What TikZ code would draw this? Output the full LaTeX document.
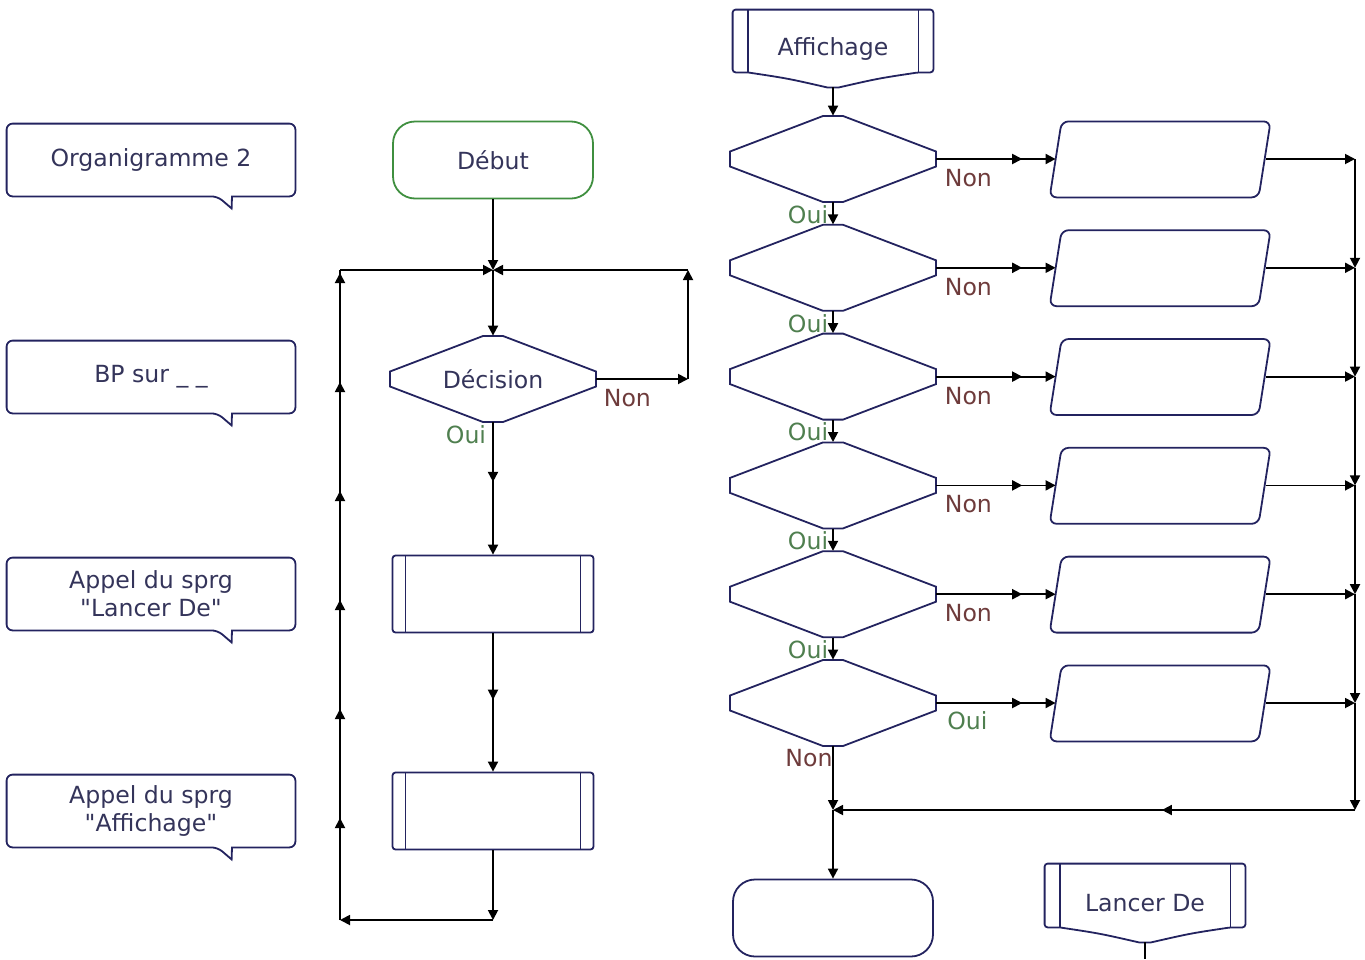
\documentclass[tikz,border=0pt]{standalone}
\usepackage{fontspec}
\setmainfont{DejaVu Sans}[Ligatures=TeXOff]
\usetikzlibrary{arrows.meta,calc,decorations.markings}

\definecolor{trait}{HTML}{23235F}
\definecolor{texte}{HTML}{34345A}
\definecolor{nonc}{HTML}{6E3B3B}
\definecolor{ouic}{HTML}{4F7F4F}
\definecolor{debc}{HTML}{3F8F3F}

\tikzset{
  shp/.style={draw=trait, line width=0.9pt},
  conn/.style={draw=black, line width=0.9pt},
  midarr/.style={postaction={decorate,decoration={markings,mark=at position #1 with {\arrow{>}}}}},
  upmarks/.style={postaction={decorate,decoration={markings,mark=between positions 51pt and 325pt step 54.5pt with {\arrow{>}}}}},
  bulle/.style={minimum width=144pt, minimum height=36pt, inner sep=0pt, text=texte, align=center},
  debutfin/.style={draw, line width=0.9pt, rounded corners=11pt, minimum width=100pt, minimum height=38.5pt, text=texte},
  decibox/.style={minimum width=103pt, minimum height=43pt, inner sep=0pt, text=texte},
  parabox/.style={minimum width=105pt, minimum height=38pt, inner sep=0pt},
  entetebox/.style={minimum width=100pt, minimum height=38.5pt, inner sep=0pt, text=texte},
  sousprog/.style={shp, rounded corners=1.5pt, minimum width=100.5pt, minimum height=38.5pt,
    path picture={
      \draw[shp] ([xshift=6.5pt]path picture bounding box.north west) -- ([xshift=6.5pt]path picture bounding box.south west);
      \draw[shp] ([xshift=-6.5pt]path picture bounding box.north east) -- ([xshift=-6.5pt]path picture bounding box.south east);
    }},
  lblnon/.style={text=nonc},
  lbloui/.style={text=ouic}
}

% outlines drawn round named nodes
\newcommand{\decishape}[1]{%
  \draw[shp] (#1.center) ++(-103,-7.5) -- ++(0,15) -- ++(93,35.5) -- ++(20,0) -- ++(93,-35.5)
    -- ++(0,-15) -- ++(-93,-35.5) -- ++(-20,0) -- cycle;}
\newcommand{\paraform}[1]{%
  \draw[shp, rounded corners=3.5pt] (#1.south west) ++(-6,0) -- ++(12,-76) -- ++(209,0) -- ++(-12,76) -- cycle;}
\newcommand{\bulleform}[1]{%
  \draw[shp, rounded corners=3pt] (#1.south) ++(81,0) -- (#1.south east) -- (#1.north east)
    -- (#1.north west) -- (#1.south west) -- ++(211,0) [sharp corners] -- ++(14,12) -- cycle;}
\newcommand{\entete}[1]{%
  \draw[shp, rounded corners=1.5pt] ($(#1.south west)+(15,-15)$) -- ($(#1.south west)+(0,-15)$)
    -- (#1.north west) -- (#1.north east) -- ($(#1.south east)+(0,-15)$) -- ($(#1.south east)+(-15,-15)$)
    [sharp corners] .. controls +(-40,6) .. ($(#1.south)+(6,0)$) -- ($(#1.south)+(-6,0)$)
    .. controls ($(#1.south west)+(55,-9)$) .. cycle;
  \draw[shp] ($(#1.north west)+(15,0)$) -- ($(#1.south west)+(15,-15)$);
  \draw[shp] ($(#1.north east)+(-15,0)$) -- ($(#1.south east)+(-15,-15)$);}

\begin{document}
\begin{tikzpicture}[x=0.5pt, y=-0.5pt, font=\fontsize{11.8pt}{14pt}\selectfont,
  >={Triangle[length=5pt,width=5pt]}]
\useasboundingbox (0,0) rectangle (1365,959);

% Comments on the left
\node[bulle] (com1) at (151,160) {Organigramme 2};
\node[bulle] (com2) at (151,377) {BP sur \_ \_};
\node[bulle] (com3) at (151,594) {Appel du sprg\\"Lancer De"};
\node[bulle] (com4) at (151,811) {Appel du sprg\\"Affichage"};
\foreach \c in {com1,com2,com3,com4} {\bulleform{\c}}

% Main program
\node[debutfin, draw=debc] (debut) at (493,160) {Début};
\node[decibox] (deci) at (493,379) {Décision};
\decishape{deci}
\node[sousprog] (sub1) at (493,594) {};
\node[sousprog] (sub2) at (493,811) {};

\coordinate (j1) at (493,270);
\coordinate (r1) at (688,379);
\coordinate (r2) at (688,270);
\coordinate (b1) at (493,920);
\coordinate (b2) at (340,920);
\coordinate (b3) at (340,270);

\draw[conn,->] (debut) -- (j1);
\draw[conn,->] (j1) -- (deci);
\draw[conn,->] (deci) -- (r1);
\draw[conn,->] (r1) -- (r2);
\draw[conn,->] (r2) -- (j1);
\node[lblnon] (non0) at ($(deci.east)+(31,19)$) {Non};
\node[lbloui] (oui0) at ($(deci.south)+(-27,12)$) {Oui};
\draw[conn,->,midarr=0.45] (deci) -- (sub1);
\draw[conn,->,midarr=0.48] (sub1) -- (sub2);
\draw[conn,->] (sub2) -- (b1);
\draw[conn,->] (b1) -- (b2);
\draw[conn,upmarks] (b2) -- (b3);
\draw[conn,->] (b3) -- (j1);

% Sub-program Affichage
\node[entetebox] (aff) at (833,48.5) {Affichage};
\entete{aff}

\foreach \i in {1,...,6} {
  \pgfmathsetmacro{\yy}{159+108.8*(\i-1)}
  \node[decibox] (d\i) at (833,\yy) {};
  \decishape{d\i}
  \node[parabox] (p\i) at (1161,\yy) {};
  \paraform{p\i}
  \coordinate (c\i) at (1355,\yy);
  \draw[conn,->,midarr=0.72] (d\i) -- (p\i);
  \draw[conn,->] (p\i) -- (c\i);
}
\coordinate (c7) at (1355,810);
\coordinate (m) at (833,810);

\draw[conn,->] (aff) -- (d1);
\foreach \i in {1,...,5} {
  \pgfmathtruncatemacro{\j}{\i+1}
  \draw[conn,->] (d\i) -- (d\j);
  \node[lblnon] (non\i) at ($(d\i.east)+(32,19)$) {Non};
  \node[lbloui] (oui\i) at ($(d\i.south)+(-25,12)$) {Oui};
}
\foreach \i in {1,...,6} {
  \pgfmathtruncatemacro{\j}{\i+1}
  \draw[conn,->] (c\i) -- (c\j);
}
\node[lbloui] (oui6) at ($(d6.east)+(31,18)$) {Oui};
\node[lblnon] (non6) at ($(d6.south)+(-24,12)$) {Non};

\node[debutfin, draw=trait] (fin) at (833,918) {};
\draw[conn,->,midarr=0.37] (c7) -- (m);
\draw[conn,->] (d6) -- (m);
\draw[conn,->] (m) -- (fin);

% Sub-program Lancer De
\node[entetebox, minimum height=39pt] (lanc) at (1145,903) {Lancer De};
\entete{lanc}
\coordinate (lbas) at (1145,959);
\draw[conn] (lanc) -- (lbas);
\end{tikzpicture}
\end{document}
